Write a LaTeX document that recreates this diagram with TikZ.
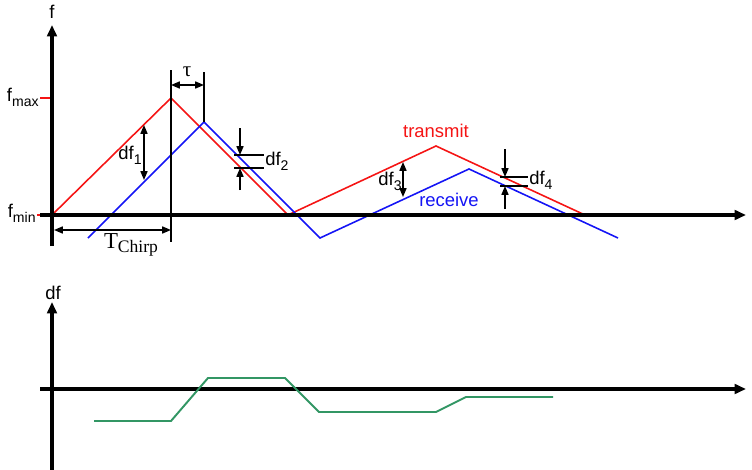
\documentclass[tikz,border=0pt]{standalone}
\usepackage{fontspec}
\setmainfont{Liberation Sans}
\newfontfamily\seriffont{Liberation Serif}
\usetikzlibrary{arrows.meta}
\newcommand\sbs[1]{\raisebox{-0.5ex}{\fontsize{8}{9}\selectfont #1}}
\definecolor{tred}{RGB}{245,20,20}
\definecolor{rblue}{RGB}{20,20,245}
\definecolor{dgreen}{RGB}{50,150,100}
\begin{document}
\begin{tikzpicture}[x=0.02cm,y=-0.02cm, font=\fontsize{10.5}{12}\selectfont,
  axis/.style={line width=2pt,-{Triangle[length=6.5pt,width=5.5pt]}},
  sig/.style={line width=0.9pt},
  thinl/.style={line width=0.75pt},
  dimarr/.style={thinl,{Triangle[length=5pt,width=4pt]}-{Triangle[length=5pt,width=4pt]}},
  ptr/.style={thinl,-{Triangle[length=5pt,width=4pt]}},
  lbl/.style={inner sep=0pt}]
\useasboundingbox (0,0) rectangle (752,470);

% ---------- top plot coordinates ----------
\coordinate (fax0) at (52,246);
\coordinate (fax1) at (52,25);
\coordinate (tax0) at (40,215);
\coordinate (tax1) at (746,215);
\coordinate (mx0) at (40,98);  \coordinate (mx1) at (52,98);
\coordinate (mn0) at (37,215); \coordinate (mn1) at (52,215);

\coordinate (t0) at (52,215);  \coordinate (t1) at (171,98);
\coordinate (t2) at (288,215); \coordinate (t3) at (436,146);
\coordinate (t4) at (585,215);
\coordinate (r0) at (88,238);  \coordinate (r1) at (204,122);
\coordinate (r2) at (320,238); \coordinate (r3) at (469,169);
\coordinate (r4) at (618,238);

% red ticks
\draw[tred,sig] (mx0) -- (mx1);
\draw[tred,sig] (mn0) -- (mn1);

% signals
\draw[tred,sig] (t0) -- (t1) -- (t2) -- (t3) -- (t4);
\draw[rblue,sig] (r0) -- (r1) -- (r2) -- (r3) -- (r4);

% axes
\draw[axis] (fax0) -- (fax1);
\draw[axis] (tax0) -- (tax1);

\node[lbl] (flab) at (52,12) {f};
\node[lbl,anchor=east] (fmax) at (39,97) {f\sbs{max}};
\node[lbl,anchor=east] (fmin) at (36,213) {f\sbs{min}};

% vertical markers
\coordinate (v1a) at (171,70);  \coordinate (v1b) at (171,242);
\coordinate (v2a) at (204,72);
\draw[thinl] (v1a) -- (v1b);
\draw[thinl] (v2a) -- (r1);

% tau
\coordinate (ta) at (171,85); \coordinate (tb) at (204,85);
\draw[dimarr] (ta) -- (tb);
\node[lbl] (tau) at (187,72) {\seriffont\fontsize{12}{13}\selectfont τ};

% T chirp
\coordinate (ca) at (54,230); \coordinate (cb) at (171,230);
\draw[dimarr] (ca) -- (cb);
\node[lbl] (tch) at (131,245) {\seriffont\fontsize{13}{14}\selectfont T\raisebox{-0.4ex}{\fontsize{10}{10}\selectfont Chirp}};

% df1
\coordinate (d1a) at (144,125); \coordinate (d1b) at (144,180);
\draw[dimarr] (d1a) -- (d1b);
\node[lbl,anchor=east] (df1) at (142,155) {df\sbs{1}};

% df2
\coordinate (d2a) at (240,128); \coordinate (d2b) at (240,155);
\coordinate (d2c) at (240,190); \coordinate (d2d) at (240,168);
\coordinate (h2a) at (234,155); \coordinate (h2b) at (264,155);
\coordinate (h2c) at (234,168); \coordinate (h2d) at (264,168);
\draw[ptr] (d2a) -- (d2b);
\draw[ptr] (d2c) -- (d2d);
\draw[thinl] (h2a) -- (h2b);
\draw[thinl] (h2c) -- (h2d);
\node[lbl,anchor=west] (df2) at (265,161) {df\sbs{2}};

% df3
\coordinate (d3a) at (403,162); \coordinate (d3b) at (403,197);
\draw[dimarr] (d3a) -- (d3b);
\node[lbl,anchor=east] (df3) at (402,181) {df\sbs{3}};

% df4
\coordinate (d4a) at (505,149); \coordinate (d4b) at (505,177);
\coordinate (d4c) at (505,209); \coordinate (d4d) at (505,186);
\coordinate (h4a) at (500,177); \coordinate (h4b) at (528,177);
\coordinate (h4c) at (500,186); \coordinate (h4d) at (528,186);
\draw[ptr] (d4a) -- (d4b);
\draw[ptr] (d4c) -- (d4d);
\draw[thinl] (h4a) -- (h4b);
\draw[thinl] (h4c) -- (h4d);
\node[lbl,anchor=west] (df4) at (529,180) {df\sbs{4}};

\node[lbl,tred] (transmit) at (436,131) {transmit};
\node[lbl,rblue] (receive) at (449,200) {receive};

% ---------- bottom plot ----------
\coordinate (dax0) at (52,470);
\coordinate (dax1) at (52,302);
\coordinate (bax0) at (40,389);
\coordinate (bax1) at (746,389);
\draw[axis] (dax0) -- (dax1);
\draw[axis] (bax0) -- (bax1);
\node[lbl] (dflab) at (53,293) {df};

\coordinate (g0) at (94,421);  \coordinate (g1) at (171,421);
\coordinate (g2) at (208,378); \coordinate (g3) at (285,378);
\coordinate (g4) at (319,412); \coordinate (g5) at (436,412);
\coordinate (g6) at (466,397); \coordinate (g7) at (553,397);
\draw[dgreen,line width=1.1pt] (g0) -- (g1) -- (g2) -- (g3) -- (g4) -- (g5) -- (g6) -- (g7);
\end{tikzpicture}
\end{document}
